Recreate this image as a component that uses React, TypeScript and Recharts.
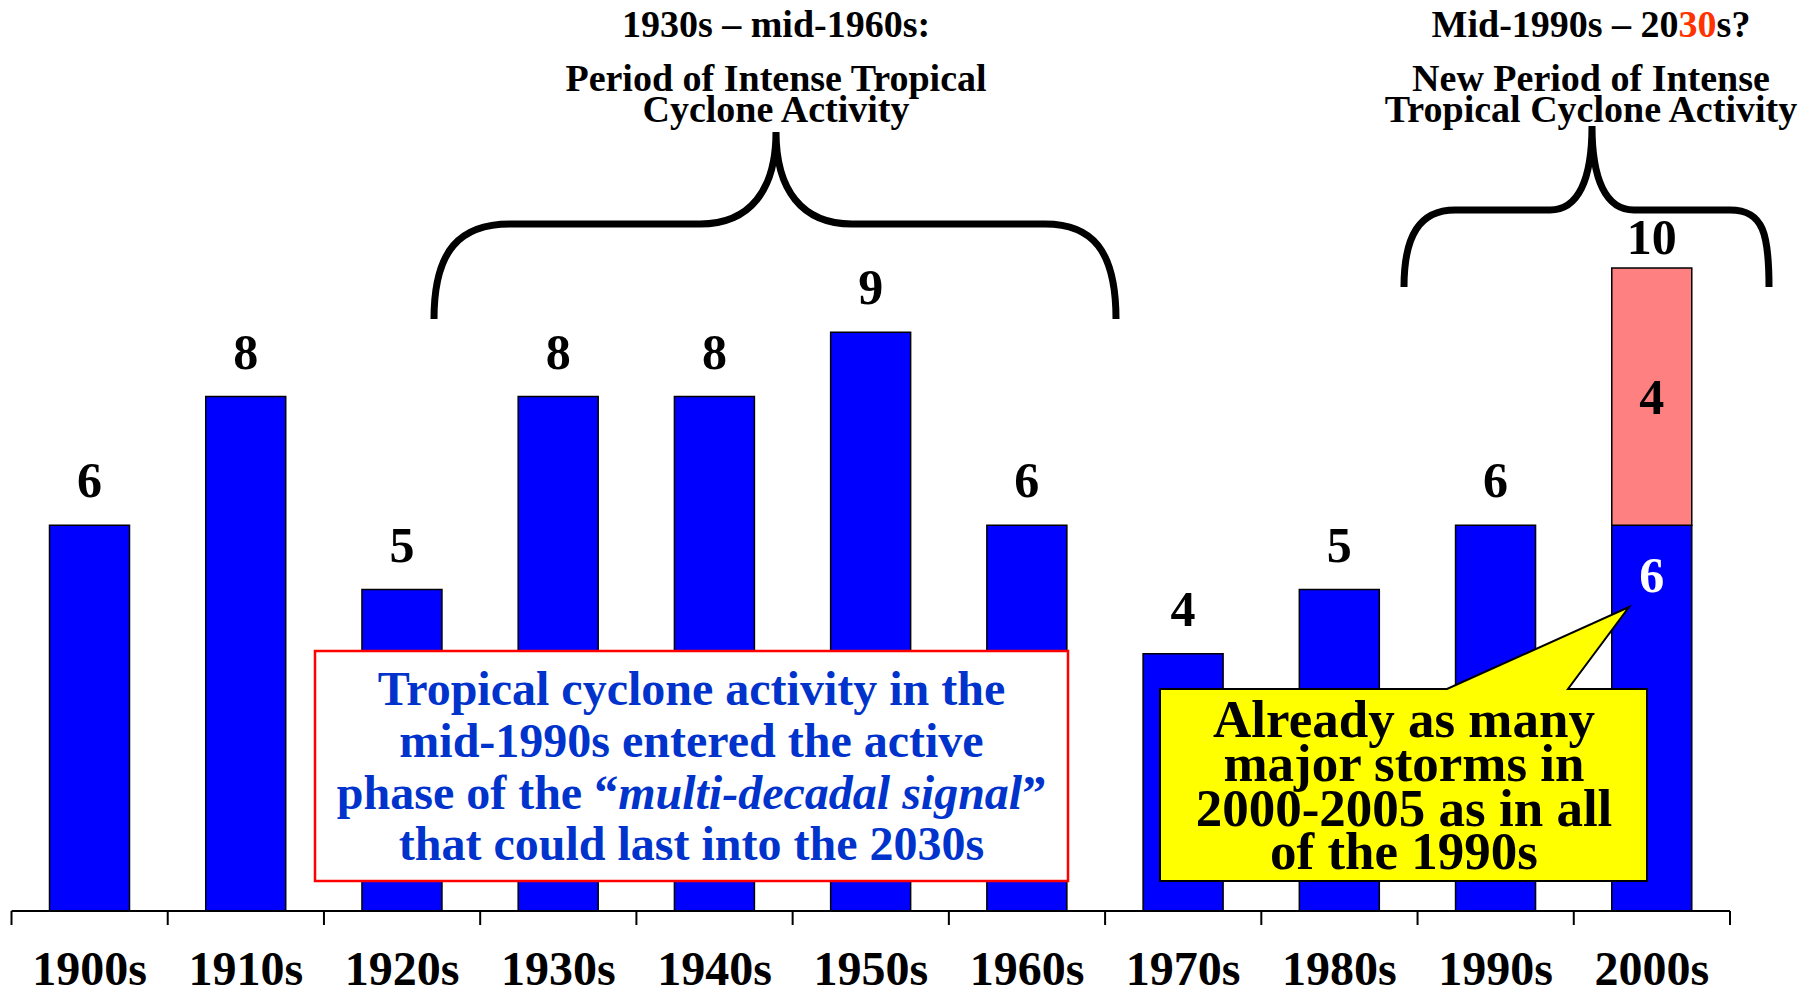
import React from 'react';
import { BarChart, Bar, XAxis, YAxis, LabelList } from 'recharts';

const decades = ['1900s', '1910s', '1920s', '1930s', '1940s', '1950s', '1960s', '1970s', '1980s', '1990s', '2000s'];
// major storms per decade (blue) and the extra ones shown in pink for 2000s
const majorStorms = [6, 8, 5, 8, 8, 9, 6, 4, 5, 6, 6];
const extraStorms = [0, 0, 0, 0, 0, 0, 0, 0, 0, 0, 4];

const data = decades.map((decade, i) => ({
  decade,
  major: majorStorms[i],
  extra: extraStorms[i],
  total: majorStorms[i] + extraStorms[i]
}));

const W = 1801;
const H = 996;
const MARGIN = { top: 139.4, right: 71, left: 11.5, bottom: 0 };
const AXIS_H = 85;
const AXIS_Y = H - AXIS_H;
const BAND = (W - MARGIN.left - MARGIN.right) / decades.length;
const SERIF = '"Liberation Serif", "Times New Roman", serif';

function DecadeTick(props: any) {
  const { x, index, payload } = props;
  const last = index === decades.length - 1;
  return (
    <g>
      <line x1={x - BAND / 2} x2={x - BAND / 2} y1={AXIS_Y} y2={AXIS_Y + 14} stroke="#000" strokeWidth={2} />
      {last && (
        <line x1={x + BAND / 2} x2={x + BAND / 2} y1={AXIS_Y} y2={AXIS_Y + 14} stroke="#000" strokeWidth={2} />
      )}
      <text x={x} y={985} textAnchor="middle" fontFamily={SERIF} fontWeight={700} fontSize={48} fill="#000">
        {payload.value}
      </text>
    </g>
  );
}

function valueText(x: number, y: number, text: any, fill = '#000') {
  return (
    <text x={x} y={y} textAnchor="middle" fontFamily={SERIF} fontWeight={700} fontSize={50} fill={fill}>
      {text}
    </text>
  );
}

function MajorLabel(props: any) {
  const { x, y, width, value } = props;
  const row = data.find((d) => d.decade === value);
  if (!row) return null;
  const cx = x + width / 2;
  if (row.extra > 0) return valueText(cx, y + 67, row.major, '#fff');
  return valueText(cx, y - 28, row.major);
}

function ExtraLabel(props: any) {
  const { x, y, width, height, value } = props;
  const row = data.find((d) => d.decade === value);
  if (!row || row.extra <= 0) return null;
  const cx = x + width / 2;
  return (
    <g>
      {valueText(cx, y + height / 2 + 17, row.extra)}
      {valueText(cx, y - 14, row.total)}
    </g>
  );
}

function Annotations() {
  const titleStyle = { fontFamily: SERIF, fontWeight: 700, fontSize: 38, fill: '#000' };
  return (
    <svg
      width={W}
      height={H}
      style={{ position: 'absolute', left: 0, top: 0, pointerEvents: 'none' }}
    >
      {/* left period */}
      <text x={776} y={37} textAnchor="middle" {...titleStyle}>1930s – mid-1960s:</text>
      <text x={776} y={91} textAnchor="middle" {...titleStyle}>Period of Intense Tropical</text>
      <text x={776} y={122} textAnchor="middle" {...titleStyle}>Cyclone Activity</text>
      <path
        d="M 434 319 C 434 250, 460 224, 510 224 L 700 224 C 750 224, 776 190, 776 132 C 776 190, 802 224, 852 224 L 1045 224 C 1092 224, 1116 250, 1116 319"
        fill="none"
        stroke="#000"
        strokeWidth={7}
      />

      {/* right period */}
      <text x={1591} y={37} textAnchor="middle" {...titleStyle}>
        Mid-1990s – 20<tspan fill="#ff3300">30</tspan>s?
      </text>
      <text x={1591} y={91} textAnchor="middle" {...titleStyle}>New Period of Intense</text>
      <text x={1591} y={122} textAnchor="middle" {...titleStyle}>Tropical Cyclone Activity</text>
      <path
        d="M 1404 287 C 1404 235, 1420 210, 1455 210 L 1550 210 C 1578 210, 1592 180, 1592 126 C 1592 180, 1606 210, 1634 210 L 1730 210 C 1764 210, 1769 235, 1769 287"
        fill="none"
        stroke="#000"
        strokeWidth={7}
      />

      {/* blue note */}
      <rect x={315} y={651} width={753} height={230} fill="#fff" stroke="#ff0000" strokeWidth={2.5} />
      <g fontFamily={SERIF} fontWeight={700} fontSize={48} fill="#0033cc" textAnchor="middle">
        <text x={691.5} y={705}>Tropical cyclone activity in the</text>
        <text x={691.5} y={757}>mid-1990s entered the active</text>
        <text x={691.5} y={809}>
          phase of the “<tspan fontStyle="italic">multi-decadal signal</tspan>”
        </text>
        <text x={691.5} y={860}>that could last into the 2030s</text>
      </g>

      {/* yellow callout */}
      <path
        d="M 1160 689 L 1447 689 L 1629 607 L 1568 689 L 1647 689 L 1647 881 L 1160 881 Z"
        fill="#ffff00"
        stroke="#000"
        strokeWidth={2}
        strokeLinejoin="miter"
      />
      <g fontFamily={SERIF} fontWeight={700} fontSize={53} fill="#000" textAnchor="middle">
        <text x={1404} y={737}>Already as many</text>
        <text x={1404} y={781}>major storms in</text>
        <text x={1404} y={826}>2000-2005 as in all</text>
        <text x={1404} y={869}>of the 1990s</text>
      </g>
    </svg>
  );
}

export default function App() {
  return (
    <div style={{ position: 'absolute', left: 0, top: 0, width: W, height: H, background: '#fff' }}>
      <BarChart width={W} height={H} data={data} margin={MARGIN} barSize={80}>
        <XAxis
          dataKey="decade"
          height={AXIS_H}
          interval={0}
          axisLine={{ stroke: '#000', strokeWidth: 2 }}
          tickLine={false}
          tick={(p: any) => <DecadeTick {...p} />}
        />
        <YAxis hide domain={[0, 12]} />
        <Bar dataKey="major" stackId="a" fill="#0000ff" stroke="#000" strokeWidth={1.5} isAnimationActive={false}>
          <LabelList dataKey="decade" content={(p: any) => <MajorLabel {...p} />} />
        </Bar>
        <Bar dataKey="extra" stackId="a" fill="#ff8080" stroke="#000" strokeWidth={1.5} isAnimationActive={false}>
          <LabelList dataKey="decade" content={(p: any) => <ExtraLabel {...p} />} />
        </Bar>
      </BarChart>
      <Annotations />
    </div>
  );
}
